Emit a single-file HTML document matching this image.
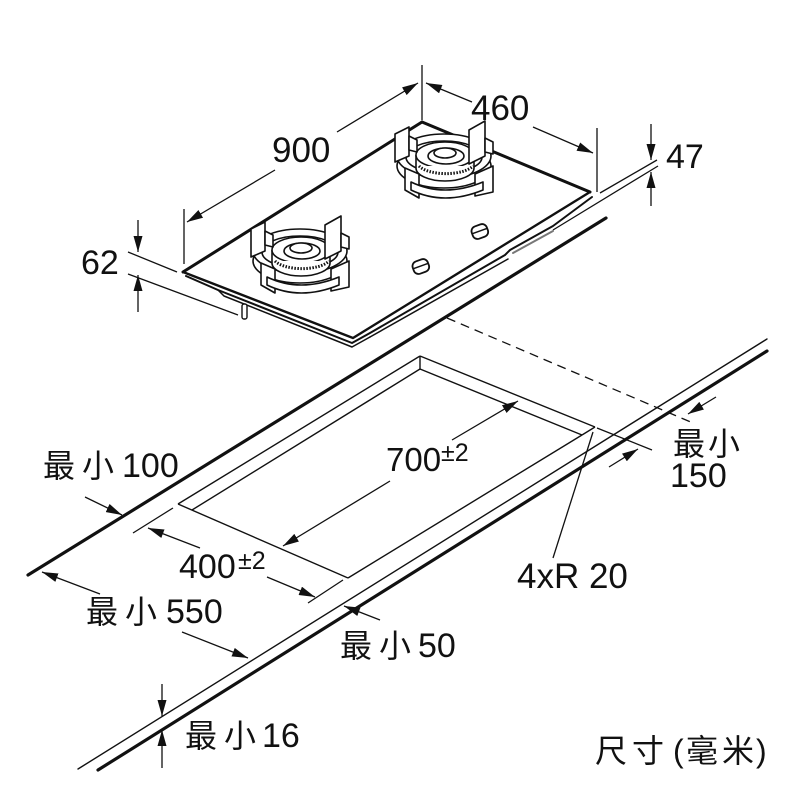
<!DOCTYPE html>
<html><head><meta charset="utf-8"><style>
html,body{margin:0;padding:0;background:#fff;}
svg{display:block;}
text{font-family:"Liberation Sans","Noto Sans CJK SC",sans-serif;fill:#111;}
</style></head><body>
<svg width="800" height="800" viewBox="0 0 800 800" xmlns="http://www.w3.org/2000/svg">
<defs>
<marker id="a" markerWidth="17" markerHeight="9" refX="16" refY="4.5" orient="auto" markerUnits="userSpaceOnUse"><path d="M0,0 L16,4.5 L0,9 z" fill="#111"/></marker>
<g id="burner" stroke="#111" stroke-width="1.6" fill="#fff" stroke-linejoin="round">
  <ellipse cx="-3" cy="6" rx="47" ry="22"/>
  <ellipse cx="-3" cy="-4" rx="47" ry="22"/>
  <ellipse cx="-3" cy="-3" rx="38" ry="16"/>
  <path d="M-31,-5 L-31,8 A29,13 0 0 0 27,8 L27,-5"/>
  <ellipse cx="-2" cy="-5" rx="29" ry="13"/>
  <path d="M-28,6 A29,12 0 0 0 26,6" stroke-dasharray="1.5,1.5" stroke-width="3"/>
  <ellipse cx="-1" cy="-4" rx="18" ry="8"/>
  <ellipse cx="-2" cy="-7" rx="11" ry="5"/>
  <polygon points="-52,-26 -38,-33 -38,-4 -52,2"/>
  <polygon points="-38,-24 -30,-20 -30,-8 -38,-10"/>
  <polygon points="22,-30 38,-39 38,-4 22,4"/>
  <polygon points="38,-22 46,-18 46,-6 38,-8"/>
  <polygon points="-42,8 -28,14 -28,38 -42,30"/>
  <polygon points="28,14 46,6 46,32 28,36"/>
  <path d="M-36,22 Q-3,38 36,22 L36,30 Q-3,46 -36,30 z"/>
</g>
</defs>

<!-- Countertop -->
<g stroke="#111" fill="none" stroke-linecap="round">
  <line x1="28" y1="575" x2="606" y2="218" stroke-width="3.2"/>
  <line x1="78" y1="769" x2="767" y2="339" stroke-width="1.4"/>
  <line x1="98" y1="770" x2="767" y2="351" stroke-width="3.2"/>
</g>

<!-- Cutout -->
<g stroke="#111" fill="none" stroke-width="1.4" stroke-linejoin="miter">
  <line x1="420" y1="356" x2="178" y2="504"/>
  <line x1="420" y1="369" x2="192" y2="510"/>
  <line x1="420" y1="356" x2="595" y2="427"/>
  <line x1="420" y1="369" x2="582" y2="435"/>
  <line x1="420" y1="356" x2="420" y2="369"/>
  <line x1="178" y1="504" x2="348" y2="578"/>
  <line x1="348" y1="578" x2="582" y2="435"/>
  <line x1="595" y1="427" x2="582" y2="435"/>
</g>

<!-- Dimension / extension lines lower -->
<g stroke="#111" fill="none" stroke-width="1.3">
  <line x1="133" y1="533" x2="173" y2="508"/>
  <line x1="308" y1="603" x2="343" y2="580"/>
  <line x1="200" y1="548" x2="148" y2="528" marker-end="url(#a)"/>
  <line x1="267" y1="577" x2="315" y2="597" marker-end="url(#a)"/>
  <line x1="452" y1="440" x2="518" y2="401" marker-end="url(#a)"/>
  <line x1="390" y1="481" x2="283" y2="546" marker-end="url(#a)"/>
  <line x1="447" y1="318" x2="693" y2="423" stroke-dasharray="9,6"/>
  <line x1="597" y1="428" x2="652" y2="450"/>
  <line x1="716" y1="397" x2="688" y2="414" marker-end="url(#a)"/>
  <line x1="609" y1="467" x2="638" y2="449" marker-end="url(#a)"/>
  <line x1="593" y1="432" x2="553" y2="558"/>
  <line x1="380" y1="620" x2="344" y2="606" marker-end="url(#a)"/>
  <line x1="100" y1="594" x2="42" y2="572" marker-end="url(#a)"/>
  <line x1="182" y1="632" x2="248" y2="658" marker-end="url(#a)"/>
  <line x1="85" y1="497" x2="122" y2="515" marker-end="url(#a)"/>
  <line x1="162" y1="684" x2="162" y2="716" marker-end="url(#a)"/>
  <line x1="162" y1="768" x2="162" y2="730" marker-end="url(#a)"/>
</g>

<!-- Top dimensions -->
<g stroke="#111" fill="none" stroke-width="1.3">
  <line x1="184" y1="209" x2="184" y2="264"/>
  <line x1="275" y1="170" x2="187" y2="222" marker-end="url(#a)"/>
  <line x1="337" y1="132" x2="418" y2="83" marker-end="url(#a)"/>
  <line x1="422" y1="65" x2="422" y2="120"/>
  <line x1="472" y1="102" x2="426" y2="83" marker-end="url(#a)"/>
  <line x1="533" y1="127" x2="593" y2="153" marker-end="url(#a)"/>
  <line x1="597" y1="128" x2="597" y2="192"/>
  <line x1="651" y1="124" x2="651" y2="160" marker-end="url(#a)"/>
  <line x1="651" y1="206" x2="651" y2="172" marker-end="url(#a)"/>
  <line x1="600" y1="193" x2="657" y2="160"/>
  <line x1="553" y1="230" x2="658" y2="166"/>
  <line x1="128" y1="252" x2="177" y2="272"/>
  <line x1="128" y1="274" x2="238" y2="315"/>
  <line x1="138" y1="220" x2="138" y2="252" marker-end="url(#a)"/>
  <line x1="138" y1="312" x2="138" y2="275" marker-end="url(#a)"/>
</g>

<!-- Hob -->
<g stroke="#111" fill="#fff" stroke-linejoin="round" stroke-linecap="round">
  <path d="M186,276 L218,290 L352,343 L370,333 L505,255 L510,250 L553,226 L592,197" fill="none" stroke-width="2"/>
  <path d="M218,290 L224,296 L352,347 L370,337" fill="none" stroke-width="1.5"/>
  <path d="M370,337 L508,259" fill="none" stroke-width="1.5"/>
  <path d="M513,253 L553,231" fill="none" stroke="#777" stroke-width="2"/>
  <rect x="242" y="304" width="5" height="15" rx="2" stroke-width="1.4"/>
  <polygon points="183,272 422,122 590,192 353,338" stroke-width="2.4"/>
  <line x1="183" y1="272" x2="422" y2="122" stroke-width="3"/>
  <line x1="422" y1="122" x2="590" y2="192" stroke-width="3"/>
  <g transform="translate(480,232) rotate(-20)"><rect x="-8" y="-7" width="16" height="13" rx="5" stroke-width="1.8"/><line x1="-7" y1="-1" x2="7" y2="-1" stroke-width="1.4"/></g>
  <g transform="translate(421,267) rotate(-20)"><rect x="-8" y="-7" width="16" height="13" rx="5" stroke-width="1.8"/><line x1="-7" y1="-1" x2="7" y2="-1" stroke-width="1.4"/></g>
</g>
<use href="#burner" transform="translate(303,255)"/>
<use href="#burner" transform="translate(447,160)"/>

<!-- Labels -->
<text x="272" y="162" font-size="35">900</text>
<text x="471" y="120" font-size="35">460</text>
<text x="666" y="168" font-size="34">47</text>
<text x="81" y="274" font-size="34">62</text>

<text x="43" y="477" font-size="34"><tspan font-size="32" letter-spacing="7">最小</tspan><tspan x="122">100</tspan></text>
<text x="86" y="623" font-size="34"><tspan font-size="32" letter-spacing="7">最小</tspan><tspan x="166">550</tspan></text>
<text x="340" y="657" font-size="34"><tspan font-size="32" letter-spacing="7">最小</tspan><tspan x="418">50</tspan></text>
<text x="185" y="747" font-size="34"><tspan font-size="32" letter-spacing="7">最小</tspan><tspan x="262">16</tspan></text>
<text x="673" y="455" font-size="32" letter-spacing="3">最小</text>
<text x="670" y="487" font-size="34">150</text>

<text x="386" y="471" font-size="33">700</text>
<text x="441" y="461" font-size="25">±2</text>
<text x="179" y="578" font-size="34">400</text>
<text x="238" y="569" font-size="25">±2</text>
<text x="517" y="588" font-size="35">4xR 20</text>

<text x="595" y="762" font-size="32">尺</text>
<text x="632" y="762" font-size="32">寸</text>
<text x="673" y="762" font-size="32">(</text>
<text x="686" y="762" font-size="32">毫</text>
<text x="722" y="762" font-size="32">米</text>
<text x="756" y="762" font-size="32">)</text>
</svg>
</body></html>
